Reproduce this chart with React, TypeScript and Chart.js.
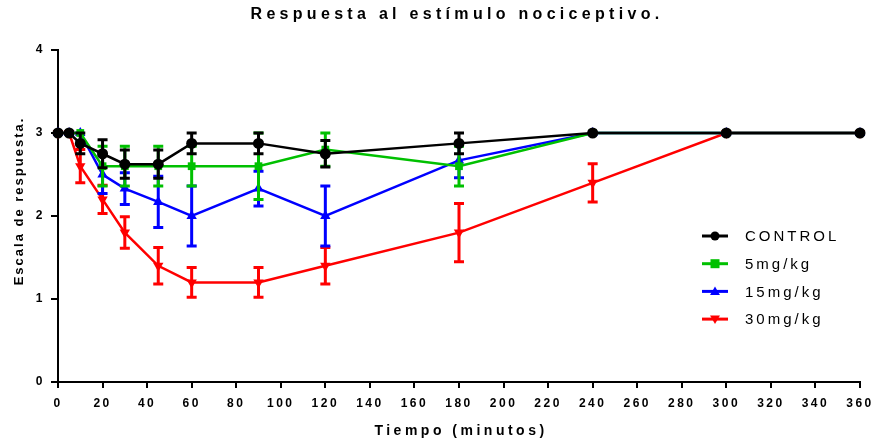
import { useEffect, useRef } from "react";
import { Chart, registerables } from "chart.js";

Chart.register(...registerables);

const times = [0, 5, 10, 20, 30, 45, 60, 90, 120, 180, 240, 300, 360];
const seriesNames = ["CONTROL", "5mg/kg", "15mg/kg", "30mg/kg"];
const controlMean = [3, 3, 2.875, 2.75, 2.625, 2.625, 2.875, 2.875, 2.75, 2.875, 3, 3, 3];
const controlErr = [0, 0, 0.125, 0.17, 0.17, 0.17, 0.125, 0.125, 0.16, 0.125, 0, 0, 0];
const dose5Mean = [3, 3, 3, 2.6, 2.6, 2.6, 2.6, 2.6, 2.8, 2.6, 3, 3, 3];
const dose5Err = [0, 0, 0, 0.24, 0.24, 0.24, 0.24, 0.4, 0.2, 0.24, 0, 0, 0];
const dose15Mean = [3, 3, 3, 2.5, 2.33, 2.17, 2, 2.33, 2, 2.67, 3, 3, 3];
const dose15Err = [0, 0, 0, 0.23, 0.19, 0.31, 0.36, 0.21, 0.36, 0.21, 0, 0, 0];
const dose30Mean = [3, 3, 2.6, 2.2, 1.8, 1.4, 1.2, 1.2, 1.4, 1.8, 2.4, 3, 3];
const dose30Err = [0, 0, 0.2, 0.17, 0.19, 0.22, 0.18, 0.18, 0.22, 0.35, 0.23, 0, 0];

const means = [controlMean, dose5Mean, dose15Mean, dose30Mean];
const errors = [controlErr, dose5Err, dose15Err, dose30Err];
const colors = ["#000000", "#00c000", "#0000ff", "#ff0000"];
const shapes = ["circle", "rect", "triangle", "triangleDown"];

const TITLE = "Respuesta al estímulo nociceptivo.";
const X_TITLE = "Tiempo (minutos)";
const Y_TITLE = "Escala de respuesta.";
const FONT = "'Liberation Sans', Arial, sans-serif";

function drawMarker(ctx: CanvasRenderingContext2D, shape: string, x: number, y: number, r: number) {
  ctx.beginPath();
  if (shape === "circle") {
    ctx.arc(x, y, r, 0, Math.PI * 2);
  } else if (shape === "rect") {
    ctx.rect(x - r, y - r, 2 * r, 2 * r);
  } else if (shape === "triangle") {
    ctx.moveTo(x, y - r * 1.1);
    ctx.lineTo(x + r * 1.1, y + r * 0.8);
    ctx.lineTo(x - r * 1.1, y + r * 0.8);
    ctx.closePath();
  } else {
    ctx.moveTo(x, y + r * 1.1);
    ctx.lineTo(x + r * 1.1, y - r * 0.8);
    ctx.lineTo(x - r * 1.1, y - r * 0.8);
    ctx.closePath();
  }
  ctx.fill();
}

const spacingPlugin = {
  id: "spacing",
  beforeUpdate(chart: any) {
    chart.ctx.letterSpacing = "2.5px";
  },
  beforeDraw(chart: any) {
    chart.ctx.letterSpacing = "2.5px";
  },
};

const errorBarPlugin = {
  id: "errorBars",
  afterDatasetDraw(chart: any, args: any) {
    const i = args.index;
    const errs = errors[i];
    const vals = means[i];
    const yScale = chart.scales.y;
    const ctx = chart.ctx as CanvasRenderingContext2D;
    ctx.save();
    ctx.strokeStyle = colors[i];
    ctx.lineWidth = 3;
    args.meta.data.forEach((pt: any, j: number) => {
      const e = errs[j];
      if (!e) return;
      const x = pt.x;
      const yt = yScale.getPixelForValue(vals[j] + e);
      const yb = yScale.getPixelForValue(vals[j] - e);
      ctx.beginPath();
      ctx.moveTo(x, yt);
      ctx.lineTo(x, yb);
      ctx.moveTo(x - 5, yt);
      ctx.lineTo(x + 5, yt);
      ctx.moveTo(x - 5, yb);
      ctx.lineTo(x + 5, yb);
      ctx.stroke();
    });
    ctx.restore();
  },
};

const decorPlugin = {
  id: "decor",
  afterDraw(chart: any) {
    const ctx = chart.ctx as CanvasRenderingContext2D;
    const area = chart.chartArea;
    ctx.save();
    ctx.fillStyle = "#000";
    ctx.textBaseline = "middle";
    // title
    ctx.letterSpacing = "4.3px";
    ctx.font = `bold 16px ${FONT}`;
    ctx.textAlign = "center";
    ctx.fillText(TITLE, 457, 15);
    // x axis title
    ctx.letterSpacing = "3.5px";
    ctx.font = `bold 14px ${FONT}`;
    ctx.fillText(X_TITLE, (area.left + area.right) / 2 + 2, 431);
    // y axis title
    ctx.save();
    ctx.translate(19, 202);
    ctx.rotate(-Math.PI / 2);
    ctx.letterSpacing = "2px";
    ctx.font = `bold 13px ${FONT}`;
    ctx.fillText(Y_TITLE, 1, 0);
    ctx.restore();
    // legend
    ctx.letterSpacing = "3px";
    ctx.font = `15px ${FONT}`;
    ctx.textAlign = "left";
    const lx = area.right - 158;
    const ly0 = area.top + 186;
    seriesNames.forEach((name, i) => {
      const y = ly0 + i * 27.7;
      ctx.strokeStyle = colors[i];
      ctx.fillStyle = colors[i];
      ctx.lineWidth = 3;
      ctx.beginPath();
      ctx.moveTo(lx, y);
      ctx.lineTo(lx + 26, y);
      ctx.stroke();
      drawMarker(ctx, shapes[i], lx + 13, y, 4.5);
      ctx.fillStyle = "#000";
      ctx.fillText(name, lx + 43, y + 1);
    });
    ctx.restore();
  },
};

export default function App() {
  const ref = useRef<HTMLCanvasElement | null>(null);
  useEffect(() => {
    if (!ref.current) return;
    const datasets = means.map((m, i) => ({
      label: seriesNames[i],
      data: times.map((t, j) => ({ x: t, y: m[j] })),
      borderColor: colors[i],
      backgroundColor: colors[i],
      borderWidth: 2.5,
      pointStyle: shapes[i] === "triangleDown" ? "triangle" : shapes[i],
      pointRotation: shapes[i] === "triangleDown" ? 180 : 0,
      pointRadius: i === 1 ? 5.5 : i === 0 ? 5.5 : 6,
      pointBorderWidth: 0,
      tension: 0,
      clip: false as any,
    }));
    const chart = new Chart(ref.current, {
      type: "line",
      data: { datasets },
      options: {
        animation: false,
        responsive: false,
        layout: { padding: { top: 50, right: 16, bottom: 0, left: 0 } },
        plugins: {
          legend: { display: false },
          title: { display: false },
          tooltip: { enabled: false },
        },
        scales: {
          x: {
            type: "linear",
            min: 0,
            max: 360,
            border: { display: true, color: "#000", width: 2 },
            grid: { display: true, drawOnChartArea: false, drawTicks: true, tickLength: 6, color: "#000", lineWidth: 2 },
            ticks: { stepSize: 20, color: "#000", font: { family: FONT, size: 12, weight: "bold" }, padding: 8, maxRotation: 0, autoSkip: false },
            title: { display: false },
            afterFit: (s: any) => {
              s.height = 61;
              s.paddingRight = 8;
              s.paddingLeft = 8;
            },
          },
          y: {
            min: 0,
            max: 4,
            border: { display: true, color: "#000", width: 2 },
            grid: { display: true, drawOnChartArea: false, drawTicks: true, tickLength: 7, color: "#000", lineWidth: 2 },
            ticks: { stepSize: 1, color: "#000", font: { family: FONT, size: 12, weight: "bold" }, padding: 6 },
            title: { display: false },
            afterFit: (s: any) => { s.width = 58; },
          },
        },
      },
      plugins: [spacingPlugin, errorBarPlugin, decorPlugin],
    });
    return () => chart.destroy();
  }, []);
  return (
    <div style={{ position: "absolute", left: 0, top: 0, width: 876, height: 443, background: "#fff" }}>
      <canvas ref={ref} width={876} height={443} style={{ display: "block" }} />
    </div>
  );
}
